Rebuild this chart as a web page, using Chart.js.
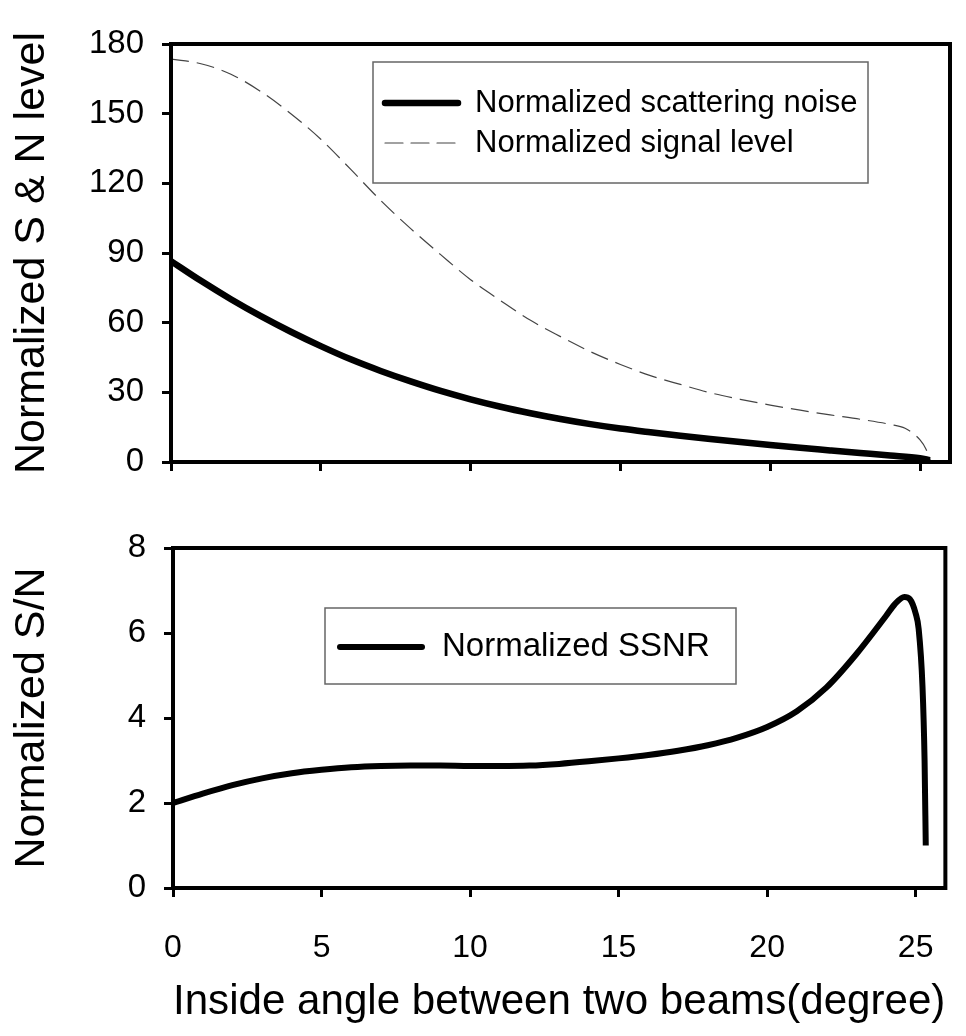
<!DOCTYPE html>
<html>
<head>
<meta charset="utf-8">
<script src="https://cdn.jsdelivr.net/npm/chart.js@4.4.1/dist/chart.umd.min.js"></script>
<style>
  body { margin: 0; background: #fff; }
  canvas { position: absolute; left: 0; }
  #topChart { top: 0; }
  #bottomChart { top: 500px; }
</style>
</head>
<body>
<canvas id="topChart" width="966" height="500"></canvas>
<canvas id="bottomChart" width="966" height="536"></canvas>
<script>
// values
const noiseAngle = [0, 1, 2, 3, 4, 5, 6, 7, 8, 9, 10, 11, 12, 13, 14, 15, 16, 17, 18, 19, 20, 21, 22, 23, 24, 25, 25.33];
const noiseLevel = [86.5, 78, 70.1, 62.8, 56.1, 49.9, 44.2, 39.2, 34.7, 30.6, 27, 23.8, 21, 18.5, 16.3, 14.4, 12.8, 11.3, 9.9, 8.6, 7.3, 6.1, 5.0, 3.9, 2.8, 1.6, 0.8];

const signalAngle = [0, 1, 2, 3, 4, 5, 6, 7, 8, 9, 10, 11, 12, 13, 14, 15, 16, 17, 18, 19, 20, 21, 22, 23, 24, 24.5, 25, 25.2, 25.35];
const signalLevel = [173.5, 171.5, 167, 159.5, 150, 139, 126, 112.6, 100.5, 89.3, 78.5, 69.5, 61, 54, 47.5, 42, 37.2, 33.4, 29.8, 27, 24.5, 22.3, 20.3, 18.4, 16.2, 14.5, 9.5, 5.5, 0.5];

const ssnrAngle = [0, 1, 2, 3, 4, 5, 6, 7, 8, 9, 10, 11, 12, 13, 14, 15, 16, 17, 18, 19, 20, 21, 22, 23, 24, 24.3, 24.62, 24.8, 25, 25.1, 25.23, 25.3, 25.34];
const ssnrValue = [2.0, 2.22, 2.42, 2.58, 2.7, 2.78, 2.84, 2.87, 2.88, 2.88, 2.87, 2.87, 2.88, 2.92, 2.98, 3.05, 3.13, 3.23, 3.36, 3.54, 3.79, 4.16, 4.72, 5.5, 6.4, 6.68, 6.85, 6.8, 6.46, 6.1, 4.74, 3.0, 1.0];

const xTickStep = 5;
const topYStep = 30;
const bottomYStep = 2;

const FONT = '"Liberation Sans", Arial, sans-serif';

function points(xs, ys) {
    return xs.map((x, i) => ({ x: x, y: ys[i] }));
}

const frame = {
    id: 'frame',
    afterDatasetsDraw(chart) {
        const { ctx, chartArea: a } = chart;
        ctx.save();
        ctx.strokeStyle = '#000';
        ctx.lineWidth = 4;
        ctx.strokeRect(a.left, a.top, a.right - a.left, a.bottom - a.top);
        ctx.restore();
    }
};

// legend drawn as a framed box inside the plot
const boxLegend = {
    id: 'boxLegend',
    afterDraw(chart, args, o) {
        const ctx = chart.ctx;
        ctx.save();
        ctx.strokeStyle = '#666';
        ctx.lineWidth = 1.5;
        ctx.strokeRect(o.x, o.y, o.w, o.h);
        ctx.font = o.fontSize + 'px ' + FONT;
        ctx.textBaseline = 'middle';
        chart.data.datasets.forEach((ds, i) => {
            const y = o.y + o.rows[i];
            ctx.strokeStyle = ds.borderColor;
            ctx.lineWidth = ds.borderWidth;
            ctx.lineCap = 'round';
            ctx.setLineDash(ds.borderDash || []);
            ctx.beginPath();
            ctx.moveTo(o.x + o.line0, y);
            ctx.lineTo(o.x + o.line1, y);
            ctx.stroke();
            ctx.setLineDash([]);
            ctx.fillStyle = '#000';
            ctx.fillText(ds.label, o.x + o.textX, y);
        });
        ctx.restore();
    }
};

const axisGrid = { drawOnChartArea: false, color: '#000', tickLength: 9, tickWidth: 3 };
const axisBorder = { color: '#000', width: 4 };

new Chart(document.getElementById('topChart'), {
    type: 'line',
    data: {
        datasets: [
            {
                label: 'Normalized scattering noise',
                data: points(noiseAngle, noiseLevel),
                borderColor: '#000',
                borderWidth: 6.5,
                pointRadius: 0,
                cubicInterpolationMode: 'monotone'
            },
            {
                label: 'Normalized signal level',
                data: points(signalAngle, signalLevel),
                borderColor: '#444',
                borderWidth: 1.2,
                borderDash: [18, 8],
                pointRadius: 0,
                cubicInterpolationMode: 'monotone'
            }
        ]
    },
    options: {
        responsive: false,
        animation: false,
        layout: { padding: { top: 44, right: 16, left: 0, bottom: 0 } },
        scales: {
            x: {
                type: 'linear',
                min: 0,
                max: 26,
                ticks: { stepSize: xTickStep, includeBounds: false, display: false },
                grid: axisGrid,
                border: axisBorder,
                afterFit: s => { s.height = 38; }
            },
            y: {
                min: 0,
                max: 180,
                ticks: { stepSize: topYStep, color: '#000', padding: 18, font: { family: FONT, size: 33 } },
                grid: axisGrid,
                border: axisBorder,
                title: {
                    display: true,
                    text: 'Normalized S & N level',
                    color: '#000',
                    font: { family: FONT, size: 43 },
                    padding: { top: 6, bottom: 0 }
                },
                afterFit: s => { s.width = 171; }
            }
        },
        plugins: {
            legend: { display: false },
            tooltip: { enabled: false },
            boxLegend: { x: 373, y: 62, w: 495, h: 121, rows: [41, 81], line0: 12, line1: 85, textX: 102, fontSize: 31 }
        }
    },
    plugins: [frame, boxLegend]
});

new Chart(document.getElementById('bottomChart'), {
    type: 'line',
    data: {
        datasets: [
            {
                label: 'Normalized SSNR',
                data: points(ssnrAngle, ssnrValue),
                borderColor: '#000',
                borderWidth: 6,
                pointRadius: 0,
                cubicInterpolationMode: 'monotone'
            }
        ]
    },
    options: {
        responsive: false,
        animation: false,
        layout: { padding: { top: 48, right: 14, left: 0, bottom: 0 } },
        scales: {
            x: {
                type: 'linear',
                min: 0,
                max: 26,
                ticks: { stepSize: xTickStep, includeBounds: false, color: '#000', padding: 32, maxRotation: 0, font: { family: FONT, size: 32 } },
                grid: axisGrid,
                border: axisBorder,
                title: {
                    display: true,
                    text: 'Inside angle between two beams(degree)',
                    color: '#000',
                    font: { family: FONT, size: 43 },
                    padding: { top: 0, bottom: 8 }
                },
                afterFit: s => { s.height = 148; }
            },
            y: {
                min: 0,
                max: 8,
                ticks: { stepSize: bottomYStep, color: '#000', padding: 18, font: { family: FONT, size: 33 } },
                grid: axisGrid,
                border: axisBorder,
                title: {
                    display: true,
                    text: 'Normalized S/N',
                    color: '#000',
                    font: { family: FONT, size: 43 },
                    padding: { top: 6, bottom: 0 }
                },
                afterFit: s => { s.width = 173; }
            }
        },
        plugins: {
            legend: { display: false },
            tooltip: { enabled: false },
            boxLegend: { x: 325, y: 108, w: 411, h: 76, rows: [39], line0: 15, line1: 97, textX: 117, fontSize: 33 }
        }
    },
    plugins: [frame, boxLegend]
});
</script>
</body>
</html>
